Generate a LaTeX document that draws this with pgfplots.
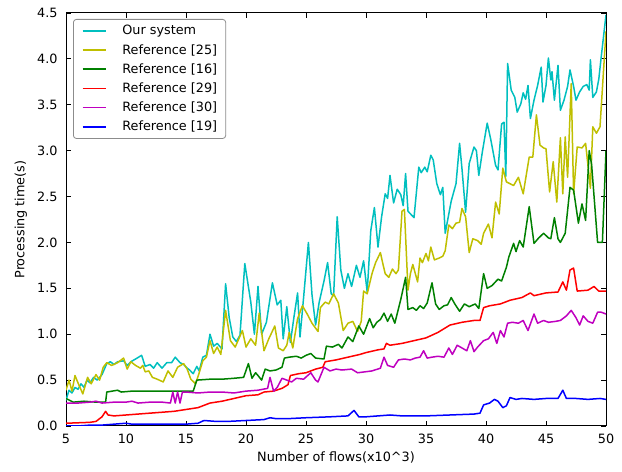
\documentclass[border=0pt]{standalone}
\usepackage{fontspec}
\setmainfont{DejaVu Sans}
\usepackage{pgfplots}
\pgfplotsset{compat=1.18}
\definecolor{clrc}{rgb}{0,0.75,0.75}
\definecolor{clry}{rgb}{0.75,0.75,0}
\definecolor{clrg}{rgb}{0,0.5,0}
\definecolor{clrr}{rgb}{1,0,0}
\definecolor{clrm}{rgb}{0.75,0,0.75}
\definecolor{clrb}{rgb}{0,0,1}
\newcommand{\ff}{\fontsize{12.8bp}{15bp}\selectfont}
\begin{document}
\begin{tikzpicture}
\begin{axis}[
  width=540bp, height=413bp, scale only axis,
  xmin=5, xmax=50, ymin=0, ymax=4.5,
  xtick={5,10,...,50}, ytick={0,0.5,...,4.5},
  /pgf/number format/assume math mode=true,
  yticklabel style={/pgf/number format/.cd, fixed, fixed zerofill, precision=1},
  tick label style={font=\ff, inner sep=0pt, outer sep=8.5bp},
  tick align=inside, major tick length=5bp,
  every tick/.style={black, line width=0.9bp},
  axis line style={line width=1bp},
  xlabel={Number of flows(x10\^{}3)},
  ylabel={Processing time(s)},
  label style={font=\ff, inner sep=0pt},
  xlabel style={outer sep=8bp},
  ylabel style={outer sep=10bp},
  every axis plot/.append style={line width=1.5bp, line join=round},
  legend cell align=left,
  legend image code/.code={\draw[#1, line width=1.5bp] (0bp,0bp) -- (23bp,0bp);},
  legend style={at={(0,1)}, anchor=north west, xshift=7bp, yshift=-6bp,
    draw=black!45, line width=0.8bp, rounded corners=3bp, font=\ff,
    inner xsep=8.5bp, inner ysep=6bp, row sep=8bp, column sep=16bp,
    nodes={inner sep=0pt}},
]
\addplot[color=clrc] coordinates {
(5.0,0.28)(5.25,0.39)(5.5,0.36)(5.75,0.42)(6.0,0.40)(6.25,0.46)(6.5,0.42)(6.75,0.50)(7.0,0.47)(7.3,0.53)(7.6,0.50)(8.0,0.56)(8.4,0.68)(8.7,0.70)(9.0,0.67)(9.3,0.70)(9.8,0.71)(10.1,0.66)(10.4,0.70)(10.8,0.73)(11.3,0.77)(11.6,0.65)(12.0,0.67)(12.3,0.63)(12.6,0.69)(13.0,0.63)(13.4,0.69)(13.8,0.69)(14.1,0.75)(14.5,0.69)(14.8,0.67)(15.1,0.63)(15.3,0.61)(15.6,0.57)(15.9,0.65)(16.1,0.60)(16.4,0.75)(16.7,0.77)(17.0,1.00)(17.3,0.87)(17.6,0.90)(18.0,0.84)(18.3,1.55)(18.6,1.18)(18.9,0.97)(19.2,0.92)(19.5,0.99)(19.9,1.77)(20.4,1.35)(20.7,1.00)(21.0,1.52)(21.3,1.00)(21.7,1.13)(22.2,1.56)(22.6,1.32)(22.9,1.37)(23.1,0.95)(23.4,1.30)(23.7,0.91)(24.0,1.19)(24.3,1.45)(24.5,0.97)(24.8,1.40)(25.2,2.00)(25.5,1.43)(25.8,1.10)(26.1,1.35)(26.5,1.58)(26.8,1.78)(27.1,1.44)(27.3,1.42)(27.6,2.28)(27.9,1.70)(28.2,1.50)(28.5,1.66)(28.8,1.52)(29.2,1.75)(29.5,1.62)(29.8,1.80)(30.1,1.46)(30.4,2.13)(30.7,2.38)(31.0,1.95)(31.3,2.28)(31.6,2.53)(31.8,2.48)(32.0,2.73)(32.3,2.43)(32.6,2.58)(32.9,2.52)(33.1,2.40)(33.3,2.75)(33.5,2.34)(34.0,2.27)(34.4,2.82)(34.6,2.76)(34.9,2.82)(35.1,2.77)(35.4,2.95)(35.6,2.90)(35.9,2.64)(36.2,2.52)(36.4,2.60)(36.6,2.10)(37.1,2.45)(37.5,2.64)(37.8,3.08)(38.0,2.80)(38.3,2.33)(38.6,2.86)(39.0,3.04)(39.2,3.00)(39.4,2.73)(39.7,2.99)(40.1,3.30)(40.4,3.12)(40.8,2.84)(41.0,2.79)(41.3,3.29)(41.5,3.31)(41.65,2.72)(41.8,3.95)(42.1,3.66)(42.4,3.58)(42.6,3.42)(42.9,3.51)(43.1,3.63)(43.3,3.56)(43.5,3.71)(43.7,3.35)(44.0,3.55)(44.3,3.71)(44.6,3.91)(44.75,3.53)(45.0,3.71)(45.2,4.01)(45.4,3.77)(45.5,3.86)(45.7,3.55)(46.0,3.93)(46.2,3.44)(46.5,3.55)(46.8,3.70)(47.0,3.88)(47.3,3.70)(47.5,3.55)(47.8,3.64)(48.1,3.70)(48.4,3.72)(48.6,3.66)(48.7,3.99)(48.9,3.58)(49.2,3.64)(49.4,3.78)(49.6,4.02)(50.0,4.48)
};
\addlegendentry{Our system}
\addplot[color=clry] coordinates {
(5.0,0.39)(5.25,0.50)(5.5,0.38)(5.75,0.55)(6.0,0.47)(6.4,0.35)(6.8,0.53)(7.1,0.46)(7.5,0.56)(7.8,0.50)(8.1,0.64)(8.4,0.69)(8.8,0.66)(9.3,0.69)(9.8,0.74)(10.1,0.62)(10.4,0.70)(10.8,0.66)(11.2,0.63)(11.4,0.66)(11.6,0.59)(11.9,0.60)(12.2,0.53)(12.6,0.51)(13.1,0.48)(13.5,0.60)(13.9,0.53)(14.3,0.64)(14.8,0.68)(15.1,0.62)(15.4,0.51)(15.8,0.46)(16.1,0.58)(16.4,0.71)(16.7,0.75)(17.0,0.93)(17.3,0.79)(17.6,0.86)(17.9,0.78)(18.3,1.26)(18.7,0.93)(19.1,0.86)(19.4,0.95)(19.7,1.04)(20.0,0.86)(20.4,0.95)(20.8,0.88)(21.1,1.23)(21.5,0.82)(21.9,0.95)(22.4,1.09)(22.7,0.85)(23.1,0.82)(23.4,0.88)(23.6,1.02)(23.9,0.85)(24.3,1.17)(24.7,1.31)(25.1,1.22)(25.5,1.12)(26.0,1.03)(26.2,1.29)(26.6,1.35)(26.9,1.33)(27.3,1.44)(27.7,1.34)(28.1,1.04)(28.5,1.12)(28.9,1.14)(29.3,1.03)(29.6,1.14)(29.8,1.47)(30.1,1.44)(30.5,1.66)(30.8,1.78)(31.2,1.89)(31.4,1.77)(31.6,1.66)(31.9,1.62)(32.2,1.71)(32.5,1.66)(32.7,1.70)(33.0,2.34)(33.2,2.36)(33.5,1.48)(33.7,1.66)(33.9,1.76)(34.3,1.57)(34.5,1.83)(34.7,1.78)(35.0,1.88)(35.2,1.80)(35.4,1.95)(35.7,1.81)(36.1,1.83)(36.4,1.85)(36.6,1.91)(36.9,2.19)(37.2,2.15)(37.5,2.21)(37.8,2.22)(38.0,2.37)(38.3,2.28)(38.6,1.89)(38.9,2.04)(39.3,2.02)(39.6,1.98)(39.8,2.10)(40.2,2.20)(40.5,2.05)(40.8,2.44)(41.1,2.31)(41.4,2.81)(41.7,2.66)(42.0,2.64)(42.3,2.62)(42.7,2.71)(43.1,2.53)(43.6,2.93)(43.9,2.93)(44.2,3.39)(44.5,3.06)(44.8,3.03)(45.0,3.02)(45.3,2.55)(45.6,2.88)(45.9,2.44)(46.2,3.14)(46.4,2.53)(46.6,3.15)(46.8,2.71)(47.1,3.73)(47.3,2.53)(47.6,3.04)(48.0,3.03)(48.3,3.08)(48.7,2.59)(48.9,3.26)(49.2,3.19)(49.5,3.26)(50.0,4.30)
};
\addlegendentry{Reference [25]}
\addplot[color=clrg] coordinates {
(5.0,0.30)(5.6,0.26)(6.5,0.27)(7.5,0.26)(8.3,0.26)(8.4,0.37)(9.3,0.39)(9.6,0.37)(10.5,0.38)(12.0,0.38)(13.0,0.38)(14.0,0.38)(15.0,0.38)(15.6,0.38)(15.9,0.50)(17.0,0.51)(18.0,0.51)(19.0,0.52)(19.8,0.53)(20.2,0.68)(20.5,0.52)(20.8,0.58)(21.0,0.55)(21.3,0.50)(21.6,0.62)(22.0,0.60)(22.5,0.61)(23.0,0.64)(23.2,0.74)(23.6,0.75)(24.2,0.76)(24.6,0.74)(25.0,0.77)(25.4,0.79)(25.8,0.74)(26.5,0.73)(26.7,0.87)(27.2,0.86)(27.7,0.89)(28.0,0.85)(28.5,0.97)(28.9,0.92)(29.4,1.09)(29.8,1.00)(30.3,1.17)(30.6,1.07)(30.9,1.13)(31.2,1.16)(31.5,1.23)(31.8,1.14)(32.1,1.22)(32.4,1.12)(32.9,1.38)(33.3,1.62)(33.5,1.27)(33.9,1.29)(34.2,1.26)(34.5,1.31)(34.8,1.28)(35.1,1.34)(35.5,1.56)(35.8,1.33)(36.1,1.27)(36.5,1.31)(36.8,1.32)(37.1,1.40)(37.4,1.33)(37.8,1.25)(38.2,1.33)(38.6,1.30)(39.1,1.33)(39.4,1.28)(39.8,1.66)(40.1,1.50)(40.5,1.53)(41.0,1.60)(41.3,1.58)(41.7,1.73)(41.9,1.84)(42.3,1.99)(42.5,1.90)(42.8,2.02)(43.1,1.95)(43.6,2.39)(44.0,1.99)(44.4,2.05)(44.8,2.10)(45.2,2.05)(45.4,2.04)(45.7,2.27)(46.0,2.04)(46.2,2.00)(46.6,2.10)(47.0,2.60)(47.3,2.57)(47.7,2.21)(48.0,2.42)(48.3,2.24)(48.6,3.00)(48.8,2.85)(49.3,2.00)(49.7,2.00)(50.0,3.00)
};
\addlegendentry{Reference [16]}
\addplot[color=clrr] coordinates {
(5.0,0.03)(6.0,0.035)(7.0,0.04)(7.5,0.05)(8.0,0.10)(8.3,0.16)(8.5,0.12)(9.0,0.11)(10.0,0.12)(11.0,0.13)(12.0,0.14)(13.0,0.15)(14.0,0.16)(15.0,0.18)(16.0,0.20)(17.0,0.25)(18.0,0.27)(19.0,0.30)(20.0,0.33)(21.0,0.34)(21.5,0.37)(22.3,0.38)(23.0,0.41)(23.5,0.45)(23.7,0.55)(24.4,0.57)(25.0,0.58)(25.8,0.62)(26.4,0.64)(26.6,0.70)(27.5,0.72)(28.5,0.75)(29.5,0.78)(30.0,0.80)(31.0,0.83)(31.5,0.84)(31.7,0.90)(32.0,0.88)(33.0,0.90)(34.0,0.93)(35.0,0.96)(36.0,1.02)(37.0,1.10)(38.0,1.13)(39.0,1.15)(39.5,1.15)(39.8,1.29)(40.3,1.31)(41.2,1.33)(42.0,1.37)(43.0,1.40)(43.7,1.45)(44.0,1.42)(45.0,1.45)(46.0,1.46)(46.4,1.57)(46.7,1.48)(47.0,1.70)(47.3,1.72)(47.6,1.47)(48.5,1.48)(49.0,1.52)(49.4,1.47)(50.0,1.47)
};
\addlegendentry{Reference [29]}
\addplot[color=clrm] coordinates {
(5.0,0.25)(6.0,0.25)(7.0,0.26)(7.5,0.27)(8.0,0.25)(9.0,0.26)(10.0,0.26)(10.5,0.27)(11.0,0.25)(12.0,0.26)(13.0,0.26)(13.7,0.25)(13.9,0.37)(14.1,0.25)(14.3,0.37)(14.5,0.25)(14.7,0.37)(15.0,0.37)(16.0,0.36)(17.0,0.37)(18.0,0.37)(19.0,0.36)(20.0,0.38)(21.0,0.39)(21.8,0.41)(22.0,0.53)(22.3,0.38)(22.6,0.42)(23.0,0.52)(23.4,0.50)(23.8,0.48)(24.2,0.52)(24.8,0.51)(25.4,0.58)(25.8,0.50)(26.0,0.48)(26.5,0.64)(27.0,0.60)(27.5,0.62)(28.0,0.61)(28.8,0.62)(29.3,0.58)(29.9,0.59)(30.5,0.60)(31.2,0.63)(31.5,0.75)(31.8,0.66)(32.3,0.64)(32.7,0.72)(33.2,0.73)(33.7,0.72)(34.1,0.74)(34.5,0.75)(34.8,0.82)(35.1,0.74)(35.5,0.75)(36.0,0.76)(36.5,0.75)(36.9,0.85)(37.2,0.78)(37.6,0.88)(38.0,0.85)(38.4,0.82)(38.7,0.93)(39.0,0.81)(39.3,0.86)(39.8,0.93)(40.2,0.95)(40.6,1.02)(40.9,0.90)(41.2,1.04)(41.5,0.97)(41.8,1.12)(42.2,1.13)(42.7,1.12)(43.1,1.15)(43.5,1.04)(44.0,1.22)(44.3,1.12)(44.8,1.15)(45.2,1.13)(45.8,1.14)(46.2,1.15)(46.7,1.20)(47.1,1.26)(47.5,1.18)(47.8,1.10)(48.1,1.20)(48.5,1.14)(48.9,1.12)(49.3,1.24)(49.6,1.24)(50.0,1.22)
};
\addlegendentry{Reference [30]}
\addplot[color=clrb] coordinates {
(5.0,0.0)(6.0,0.0)(7.0,0.01)(8.0,0.01)(9.0,0.02)(10.0,0.03)(10.5,0.02)(12.0,0.02)(14.0,0.02)(15.0,0.02)(16.0,0.03)(16.5,0.06)(17.5,0.05)(18.5,0.05)(20.0,0.06)(21.5,0.07)(22.0,0.09)(22.5,0.08)(23.5,0.08)(25.0,0.09)(27.0,0.10)(28.5,0.11)(29.0,0.17)(29.4,0.10)(30.0,0.10)(31.0,0.11)(32.0,0.12)(33.0,0.11)(35.0,0.11)(37.0,0.12)(39.0,0.13)(39.5,0.14)(39.8,0.23)(40.3,0.25)(40.7,0.29)(41.0,0.27)(41.4,0.20)(41.7,0.22)(42.0,0.31)(42.5,0.29)(43.0,0.30)(44.0,0.29)(45.0,0.30)(46.0,0.30)(46.4,0.39)(46.7,0.30)(47.5,0.30)(48.5,0.29)(49.5,0.30)(50.0,0.29)
};
\addlegendentry{Reference [19]}
\end{axis}
\pgfresetboundingbox
\path ([shift={(-66bp,-46bp)}]current axis.south west) rectangle ([shift={(16bp,13bp)}]current axis.north east);
\end{tikzpicture}
\end{document}
